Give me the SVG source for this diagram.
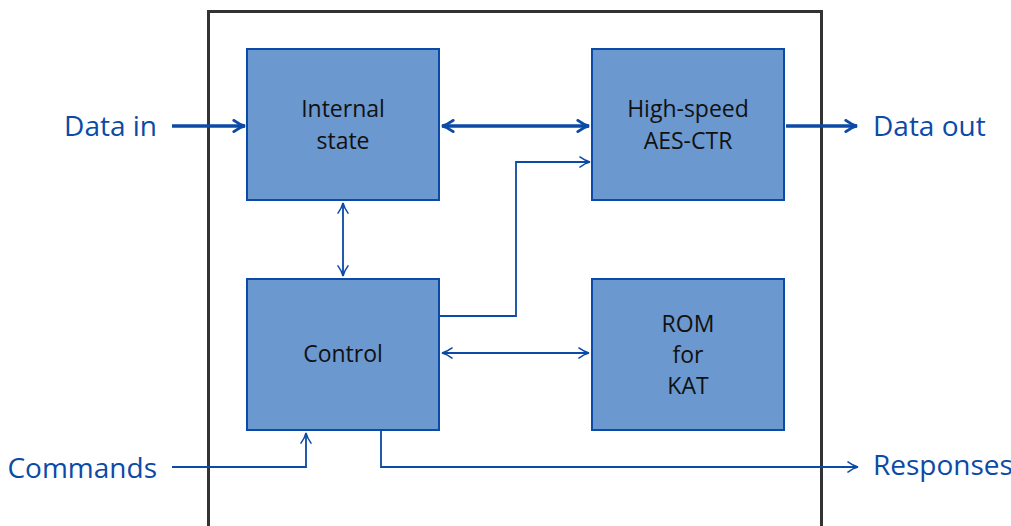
<svg xmlns="http://www.w3.org/2000/svg" width="1011" height="526" viewBox="0 0 1011 526">
<style>
.box{fill:#6b98cf;stroke:#0b4aa6;stroke-width:2}
.t{font-family:"Open Sans","Liberation Sans",sans-serif;font-size:23px;fill:#111;text-anchor:middle}
.lbl{font-family:"Open Sans","Liberation Sans",sans-serif;font-size:28px;fill:#0b4aa6}
.thick{fill:none;stroke:#0b4aa6;stroke-width:3.5}
.thin{fill:none;stroke:#0b4aa6;stroke-width:1.8}
</style>
<defs>
<marker id="ah" viewBox="0 0 10 10" refX="9" refY="5" markerWidth="4" markerHeight="4" orient="auto-start-reverse" markerUnits="strokeWidth">
<path d="M1,1 Q5,4 9,5 Q5,6 1,9" fill="none" stroke="#0b4aa6" stroke-width="2" stroke-linecap="round"/>
</marker>
<marker id="as" viewBox="0 0 10 10" refX="9" refY="5" markerWidth="7" markerHeight="7" orient="auto-start-reverse" markerUnits="strokeWidth">
<path d="M1,1 Q5,4 9,5 Q5,6 1,9" fill="none" stroke="#0b4aa6" stroke-width="1.2" stroke-linecap="round"/>
</marker>
</defs>
<rect x="208.5" y="11.5" width="613" height="530" fill="none" stroke="#333" stroke-width="3"/>
<g id="internal-state"><rect class="box" x="247" y="49" width="192" height="151"/><text class="t" x="343" y="117">Internal</text><text class="t" x="343" y="149">state</text></g>
<g id="aes-ctr"><rect class="box" x="592" y="49" width="192" height="151"/><text class="t" x="688" y="117">High-speed</text><text class="t" x="688" y="149">AES-CTR</text></g>
<g id="control"><rect class="box" x="247" y="279" width="192" height="151"/><text class="t" x="343" y="362">Control</text></g>
<g id="rom"><rect class="box" x="592" y="279" width="192" height="151"/><text class="t" x="688" y="332">ROM</text><text class="t" x="688" y="363">for</text><text class="t" x="688" y="394">KAT</text></g>
<g id="labels">
<text class="lbl" x="157" y="136" text-anchor="end">Data in</text>
<text class="lbl" x="873" y="136">Data out</text>
<text class="lbl" x="157" y="478" text-anchor="end">Commands</text>
<text class="lbl" x="873" y="475">Responses</text>
</g>
<g id="connectors">
<line class="thick" x1="172" y1="126" x2="245" y2="126" marker-end="url(#ah)"/>
<line class="thick" x1="442" y1="126" x2="589" y2="126" marker-start="url(#ah)" marker-end="url(#ah)"/>
<line class="thick" x1="786" y1="126" x2="857" y2="126" marker-end="url(#ah)"/>
<line class="thin" x1="343" y1="203" x2="343" y2="276" marker-start="url(#as)" marker-end="url(#as)"/>
<polyline class="thin" points="440,316 516,316 516,162 590,162" marker-end="url(#as)"/>
<line class="thin" x1="442" y1="353" x2="589" y2="353" marker-start="url(#as)" marker-end="url(#as)"/>
<polyline class="thin" points="172,467 306,467 306,433" marker-end="url(#as)"/>
<polyline class="thin" points="381,431 381,467 858,467" marker-end="url(#as)"/>
</g>
</svg>
